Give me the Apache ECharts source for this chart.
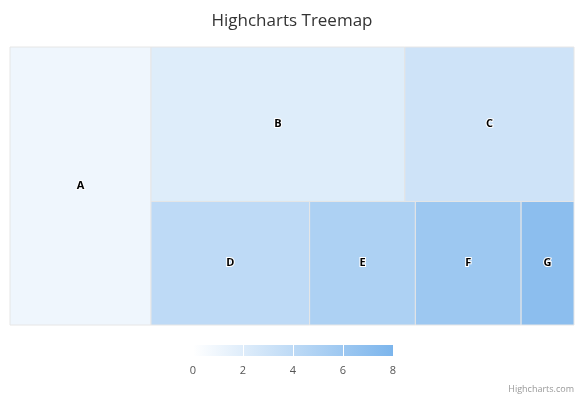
<!DOCTYPE html>
<html><head><meta charset="utf-8">
<script src="https://cdn.jsdelivr.net/npm/echarts@6/dist/echarts.min.js"></script>
<style>html,body{margin:0;padding:0}#c{width:584px;height:400px}</style>
</head><body><div id="c"></div>
<script>
const names = ["A", "B", "C", "D", "E", "F", "G"];
const values = [6, 6, 4, 3, 2, 2, 1];
const colorValues = [1, 2, 3, 4, 5, 6, 7];
const legendTicks = [0, 2, 4, 6, 8];
const minColor = "#ffffff", maxColor = "#7cb5ec";

// Highcharts-like layout: A as a column, then a row B,C on top and D..G below
const total = values.reduce((a, b) => a + b, 0);
const groups = [[0], [1, 2], [3, 4, 5, 6]];
const rects = [];
const aw = values[0];
rects.push([0, aw, 0, 1, 0]);
const rest = total - aw;
let yTop = 1;
groups.slice(1).forEach(g => {
  const s = g.reduce((a, i) => a + values[i], 0);
  const h = s / rest;
  let x = aw;
  g.forEach(i => {
    const w = rest * values[i] / s;
    rects.push([x, x + w, yTop - h, yTop, i]);
    x += w;
  });
  yTop -= h;
});

const chart = echarts.init(document.getElementById("c"));
chart.setOption({
  animation: false,
  title: { text: "Highcharts Treemap", left: "center", top: 8,
    textStyle: { fontFamily: "Open Sans", fontSize: 17, fontWeight: "normal", color: "#333" } },
  grid: [
    { left: 10, width: 564, top: 47, height: 278 },
    { left: 193, width: 200, top: 345, height: 11 }
  ],
  xAxis: [
    { gridIndex: 0, type: "value", min: 0, max: total, show: false },
    { gridIndex: 1, type: "value", min: 0, max: 8, interval: 2,
      axisLine: { show: false }, axisTick: { show: false },
      splitLine: { show: true, lineStyle: { color: "#ffffff" } },
      axisLabel: { margin: 9, color: "#555", fontSize: 11, fontFamily: "Open Sans",
        formatter: v => legendTicks.includes(v) ? String(v) : "" } }
  ],
  yAxis: [
    { gridIndex: 0, type: "value", min: 0, max: 1, show: false },
    { gridIndex: 1, type: "value", show: false, min: 0, max: 1 }
  ],
  graphic: [
    { type: "rect", z: 0, shape: { x: 193, y: 345, width: 200, height: 11 },
      style: { fill: new echarts.graphic.LinearGradient(0, 0, 1, 0,
        [{ offset: 0, color: minColor }, { offset: 1, color: maxColor }]) } },
    { type: "text", right: 10, bottom: 6,
      style: { text: "Highcharts.com", fill: "#999", fontSize: 9, fontFamily: "Open Sans" } }
  ],
  series: [{
    type: "custom", xAxisIndex: 0, yAxisIndex: 0,
    data: rects,
    renderItem: (params, api) => {
      const p0 = api.coord([api.value(0), api.value(3)]);
      const p1 = api.coord([api.value(1), api.value(2)]);
      const i = api.value(4);
      return {
        type: "rect",
        shape: { x: p0[0], y: p0[1], width: p1[0] - p0[0], height: p1[1] - p0[1] },
        style: { fill: echarts.color.lerp(colorValues[i] / 8, [minColor, maxColor]),
          stroke: "#e6e6e6", lineWidth: 1 },
        textContent: { style: { text: names[i], fill: "#000", fontWeight: "bold", fontSize: 11,
          fontFamily: "Open Sans", stroke: "#fff", lineWidth: 2 } },
        textConfig: { position: "inside" }
      };
    }
  }]
});
</script></body></html>
